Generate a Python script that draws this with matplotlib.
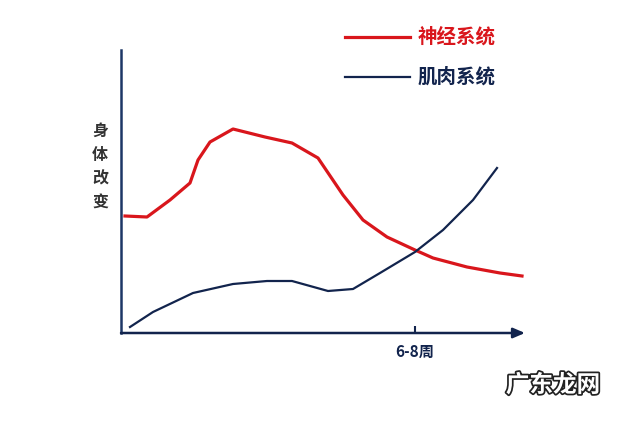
import matplotlib
matplotlib.use('Agg')
import matplotlib.pyplot as plt
import matplotlib.patheffects as pe

plt.rcParams['font.family'] = ['Noto Sans CJK SC', 'DejaVu Sans']

# 数据（任意单位，从图上估读）
shenjing_x = [4, 26, 49, 69, 77, 89, 112, 144, 171, 197, 222, 242, 266, 294, 312, 346, 379, 401]
shenjing_y = [117, 116, 133, 150, 173, 191, 204, 196, 190, 175, 138, 113, 96, 83, 75, 66, 60, 57]
jirou_x = [9, 32, 72, 112, 146, 171, 207, 232, 259, 294, 322, 352, 376]
jirou_y = [6, 21, 40, 49, 52, 52, 42, 44, 60, 81, 103, 133, 165]
tick_pos = [294]
tick_labels = ['6-8周']

RED = '#d9161c'
NAVY = '#12244d'
W, H = 640, 421

fig = plt.figure(figsize=(6.4, 4.21), dpi=100)
ax = fig.add_axes([121 / W, (H - 333) / H, (525 - 121) / W, (333 - 50) / H])
ax.set_xlim(0, 404)
ax.set_ylim(0, 283)

ax.plot(shenjing_x, shenjing_y, color=RED, lw=2.3, clip_on=False, solid_joinstyle='round')
ax.plot(jirou_x, jirou_y, color=NAVY, lw=1.6, clip_on=False)

# 坐标轴
for s in ['top', 'right', 'bottom']:
    ax.spines[s].set_visible(False)
ax.spines['left'].set_color('#1d3766')
ax.spines['left'].set_linewidth(1.8)
ax.annotate('', xy=(1.0, 0), xytext=(0, 0), xycoords='axes fraction',
            arrowprops=dict(arrowstyle='-|>,head_length=0.7,head_width=0.3',
                            color=NAVY, lw=1.8, shrinkA=0, shrinkB=0))
ax.set_yticks([])
ax.set_xticks(tick_pos)
ax.set_xticklabels(tick_labels, fontsize=11, fontweight='bold', color=NAVY)
ax.tick_params(axis='x', direction='in', length=5, width=1.5, color=NAVY, pad=8)

# 纵轴标题
fig.text(100 / W, 1 - 167 / H, '身\n体\n改\n变', ha='center', va='center',
         fontsize=11.5, fontweight='bold', color='#333333', linespacing=1.6)

# 图例
fig.lines.append(plt.Line2D([345 / W, 410 / W], [1 - 37 / H, 1 - 37 / H],
                            transform=fig.transFigure, color=RED, lw=2.3))
fig.text(418 / W, 1 - 37 / H, '神经系统', ha='left', va='center',
         fontsize=14, fontweight='bold', color=RED)
fig.lines.append(plt.Line2D([345 / W, 410 / W], [1 - 77 / H, 1 - 77 / H],
                            transform=fig.transFigure, color=NAVY, lw=1.6))
fig.text(418 / W, 1 - 77 / H, '肌肉系统', ha='left', va='center',
         fontsize=14, fontweight='bold', color=NAVY)

# 水印
fig.text(553 / W, 1 - 385 / H, '广东龙网', ha='center', va='center',
         fontsize=17, fontweight='bold', color='white',
         path_effects=[pe.withStroke(linewidth=2.5, foreground='#222222')])

fig.savefig('out.png', dpi=100)
